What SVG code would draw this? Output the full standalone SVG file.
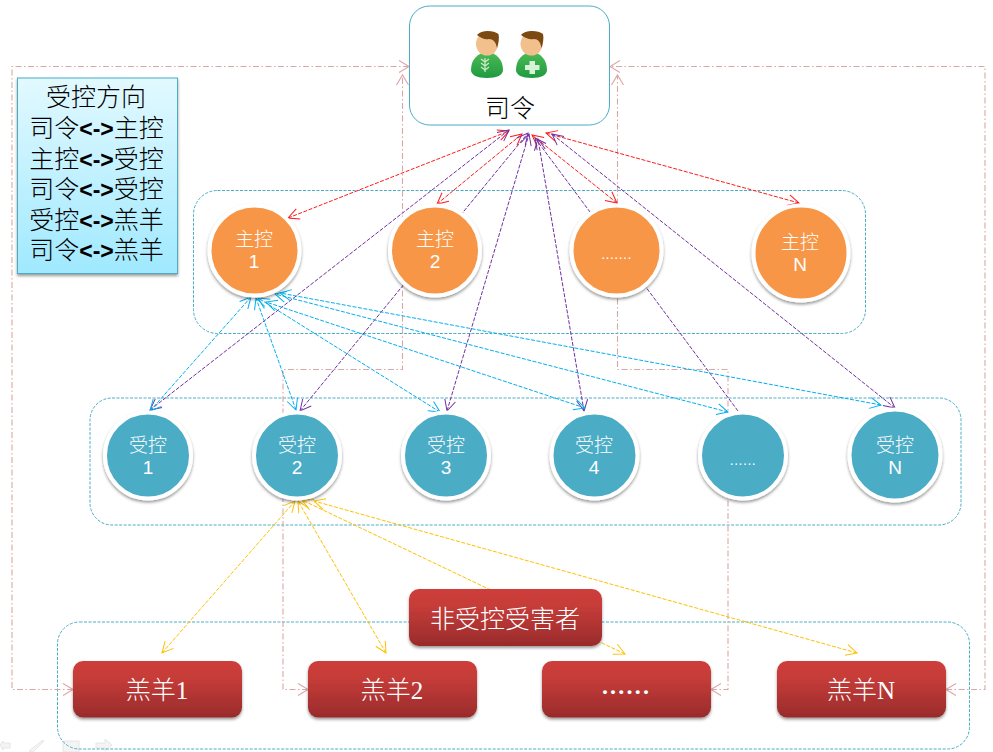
<svg xmlns="http://www.w3.org/2000/svg" width="993" height="752" viewBox="0 0 993 752">
<style>
text{text-anchor:middle;font-family:"Liberation Serif","Noto Sans CJK SC",serif;font-size:25px;font-weight:300}
.w{fill:#fff}
.k{fill:#000}
.c{font-family:"Liberation Sans","Noto Sans CJK SC",sans-serif;font-size:19px;fill:#fff}
.b{font-family:"Liberation Sans","Noto Sans CJK SC",sans-serif;font-weight:700;font-size:23px}
.grp{fill:none;stroke:#4bacc6;stroke-width:1;stroke-dasharray:3 1.5}
.p{fill:none;stroke:#dba6a6;stroke-width:1.1;stroke-dasharray:6 2.500 1.500 2.500;marker-start:url(#mp);marker-end:url(#mp)}
.a{fill:none;stroke-width:1;stroke-dasharray:4 1.5}
.r{stroke:#ff1a1a;marker-start:url(#mr);marker-end:url(#mr)}
.v{stroke:#7030a0;marker-start:url(#mv);marker-end:url(#mv)}
.u{stroke:#00b0f0;marker-start:url(#mu);marker-end:url(#mu)}
.y{stroke:#ffc000;marker-start:url(#my);marker-end:url(#my)}
.ring{stroke:#fff;stroke-width:4;filter:url(#sh)}
.o{fill:#f79646}
.t{fill:#4bacc6}
.box{fill:url(#red);filter:url(#sh)}
.tool{fill:#f4f4f4;stroke:#e6e6e6;stroke-width:1}
.skin{fill:#f2c08c}
.hair{fill:#7a4a12}
.body{fill:url(#green)}
</style>
<defs>
<linearGradient id="red" x1="0" y1="0" x2="0" y2="1"><stop offset="0" stop-color="#cd3e3a"/><stop offset=".3" stop-color="#c63c39"/><stop offset="1" stop-color="#992b2b"/></linearGradient>
<linearGradient id="sky" x1="0" y1="0" x2="0" y2="1"><stop offset="0" stop-color="#e2f9ff"/><stop offset="1" stop-color="#a0e9ff"/></linearGradient>
<linearGradient id="green" x1="0" y1="0" x2="0" y2="1"><stop offset="0" stop-color="#4dbb55"/><stop offset="1" stop-color="#1f9a40"/></linearGradient>
<filter id="sh" x="-20%" y="-20%" width="140%" height="140%"><feDropShadow dx="0" dy="2" stdDeviation="1.6" flood-color="#000" flood-opacity=".4"/></filter>
<marker id="mp" markerUnits="userSpaceOnUse" markerWidth="16" markerHeight="16" refX="13" refY="8" orient="auto-start-reverse"><path d="M3,2 L13,8 L3,14" fill="none" stroke="#e0a8a8" stroke-width="1.2"/></marker>
<marker id="mr" markerUnits="userSpaceOnUse" markerWidth="16" markerHeight="16" refX="13" refY="8" orient="auto-start-reverse"><path d="M2,2.5 L13,8 L2,13.5" fill="none" stroke="#ff1a1a" stroke-width="1"/></marker>
<marker id="mv" markerUnits="userSpaceOnUse" markerWidth="16" markerHeight="16" refX="13" refY="8" orient="auto-start-reverse"><path d="M2,2.5 L13,8 L2,13.5" fill="none" stroke="#7030a0" stroke-width="1"/></marker>
<marker id="mu" markerUnits="userSpaceOnUse" markerWidth="16" markerHeight="16" refX="13" refY="8" orient="auto-start-reverse"><path d="M2,2.5 L13,8 L2,13.5" fill="none" stroke="#00b0f0" stroke-width="1"/></marker>
<marker id="my" markerUnits="userSpaceOnUse" markerWidth="16" markerHeight="16" refX="13" refY="8" orient="auto-start-reverse"><path d="M2,2.5 L13,8 L2,13.5" fill="none" stroke="#ffc000" stroke-width="1"/></marker>
</defs>
<rect width="993" height="752" fill="#fff"/>
<g id="toolbar">
<path class="tool" d="M0,745 L3,741 V743 H10 V748 H3 V750 Z"/>
<path class="tool" d="M29,751 L43,740 L44,741 L33,752 Z"/>
<path class="tool" d="M63,741 H79 V752 H63 Z"/>
<path class="tool" d="M96,743 H105 V739 L112,745 L105,751 V748 H96 Z"/>
</g>
<g id="groups">
<rect class="grp" x="193.500" y="190.500" width="672" height="143" rx="24"/>
<rect class="grp" x="90" y="398" width="871" height="127" rx="22"/>
<rect class="grp" x="57.500" y="622" width="912" height="127" rx="22"/>
</g>
<g id="connectors">
<path class="p" d="M73,689.500 H12 V66.500 H409"/>
<path class="p" d="M308,689.500 H283 V369.500 H402.500 V75"/>
<path class="p" d="M946,689.500 H985 V66.500 H610"/>
<path class="p" d="M711,689.500 H728 V369.500 H617.500 V75"/>
<path class="a r" d="M288,218 L509,131"/>
<path class="a r" d="M437,204 L522,134"/>
<path class="a r" d="M617,203 L532,135"/>
<path class="a r" d="M799,203 L546,133"/>
<path class="a v" d="M150,410 L509,130"/>
<path class="a v" d="M300,411 L528,133"/>
<path class="a v" d="M447,411 L529,134"/>
<path class="a v" d="M584,411 L538,139"/>
<path class="a v" style="marker-start:none" d="M738,411 L535,138"/>
<path class="a v" d="M895,408 L552,134"/>
<path class="a u" d="M150,411 L251,297"/>
<path class="a u" d="M296,410 L256,298"/>
<path class="a u" d="M440,412 L258,298"/>
<path class="a u" d="M585,408 L266,302"/>
<path class="a u" d="M728,412 L275,294"/>
<path class="a u" d="M881,405 L280,293"/>
<path class="a y" d="M162,653 L295,501"/>
<path class="a y" d="M386,653 L298,501"/>
<path class="a y" d="M625,654 L302,500"/>
<path class="a y" d="M857,653 L314,501"/>
</g>
<g id="siling">
<rect x="409.500" y="6" width="200" height="119" rx="20" fill="#fff" stroke="#4bacc6" stroke-width="1"/>
<g id="person1">
<path class="body" d="M471,70 C471,60 477,53 487,52 C497,53 503,60 503,70 C503,75 497,78 487,78 C477,78 471,75 471,70 Z"/>
<ellipse class="skin" cx="487" cy="44" rx="11" ry="11.500"/>
<path class="hair" d="M477,35 C481,30 493,30 498.500,34 C499.500,38 498.500,44 497,48 C496,42 493,39 489,39 C485,40 481,38 477,35 Z"/>
<path d="M485,72 V58 M485,62 L481,59 M485,62 L489,59 M485,66 L481,63 M485,66 L489,63 M485,70 L481,67 M485,70 L489,67" fill="none" stroke="#cdeccd" stroke-width="1.200"/>
</g>
<g id="person2">
<path class="body" d="M516,70 C516,60 522,53 532,52 C541,53 547,60 547,70 C547,75 541,78 532,78 C522,78 516,75 516,70 Z"/>
<ellipse class="skin" cx="531.500" cy="44" rx="11" ry="11.500"/>
<path class="hair" d="M521,35 C525,30 538,30 543,34 C544,38 543,44 541.500,48 C540.500,42 538,39 534,39 C530,40 525,38 521,35 Z"/>
<path d="M529.500,61 H535 V65 H539.500 V70 H535 V74 H529.500 V70 H525 V65 H529.500 Z" fill="#d8f2d8"/>
</g>
<text class="k" x="510" y="117">司令</text>
</g>
<g id="legend">
<rect x="17.500" y="78" width="160" height="195.500" fill="url(#sky)" stroke="#4bacc6" stroke-width="1" filter="url(#sh)"/>
<text class="k" x="96" y="106">受控方向</text>
<text class="k" x="96.500" y="137">司令<tspan class="b">&lt;-&gt;</tspan>主控</text>
<text class="k" x="96.500" y="168">主控<tspan class="b">&lt;-&gt;</tspan>受控</text>
<text class="k" x="96.500" y="198">司令<tspan class="b">&lt;-&gt;</tspan>受控</text>
<text class="k" x="96.500" y="229">受控<tspan class="b">&lt;-&gt;</tspan>羔羊</text>
<text class="k" x="96.500" y="259">司令<tspan class="b">&lt;-&gt;</tspan>羔羊</text>
</g>
<g id="master1"><circle class="o ring" cx="254.500" cy="250.500" r="45"/><text class="c" x="254" y="246">主控</text><text class="c" x="254" y="268">1</text></g>
<g id="master2"><circle class="o ring" cx="435" cy="250.500" r="45"/><text class="c" x="435" y="246">主控</text><text class="c" x="435" y="268">2</text></g>
<g id="master3"><circle class="o ring" cx="616.500" cy="250.500" r="45"/><text class="c" x="616.500" y="259" style="font-size:14px;letter-spacing:.5px">.......</text></g>
<g id="masterN"><circle class="o ring" cx="801" cy="253" r="47.500"/><text class="c" x="800" y="249">主控</text><text class="c" x="800" y="271">N</text></g>
<g id="slave1"><circle class="t ring" cx="148" cy="455.500" r="43"/><text class="c" x="148" y="452">受控</text><text class="c" x="148" y="474">1</text></g>
<g id="slave2"><circle class="t ring" cx="297" cy="455.500" r="43"/><text class="c" x="297" y="452">受控</text><text class="c" x="297" y="474">2</text></g>
<g id="slave3"><circle class="t ring" cx="446" cy="455.500" r="43"/><text class="c" x="446" y="452">受控</text><text class="c" x="446" y="474">3</text></g>
<g id="slave4"><circle class="t ring" cx="594.500" cy="455.500" r="43"/><text class="c" x="594" y="452">受控</text><text class="c" x="594" y="474">4</text></g>
<g id="slave5"><circle class="t ring" cx="743" cy="455.500" r="43"/><text class="c" x="743" y="465" style="font-size:14px;letter-spacing:.5px">......</text></g>
<g id="slaveN"><circle class="t ring" cx="895" cy="455" r="45.500"/><text class="c" x="895" y="452">受控</text><text class="c" x="895" y="474">N</text></g>
<g id="lamb1"><rect class="box" x="73" y="661" width="169" height="56.500" rx="10"/><text class="w" x="157" y="699">羔羊1</text></g>
<g id="lamb2"><rect class="box" x="308" y="661" width="169" height="56.500" rx="10"/><text class="w" x="392" y="699">羔羊2</text></g>
<g id="lamb3"><rect class="box" x="542" y="661" width="169" height="56.500" rx="10"/><text class="w" x="626.500" y="694" style="font-weight:700;letter-spacing:2.200px;font-size:24px">......</text></g>
<g id="lambN"><rect class="box" x="777" y="661" width="169" height="56.500" rx="10"/><text class="w" x="861" y="699">羔羊N</text></g>
<g id="uncontrolled"><rect class="box" x="409" y="589" width="193" height="57" rx="10"/><text class="w" x="505" y="628">非受控受害者</text></g>
</svg>
